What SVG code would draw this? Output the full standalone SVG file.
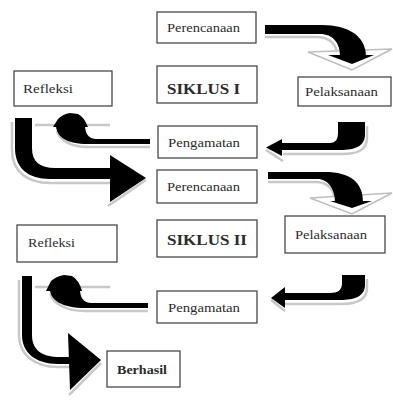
<svg xmlns="http://www.w3.org/2000/svg" width="393" height="401" viewBox="0 0 393 401">
<style>
.box{fill:#fff;stroke:#3a3a3a;stroke-width:1.2}
.t{font-family:"Liberation Serif","Times New Roman",serif;font-size:13px;fill:#2b2b2b}
.b{font-family:"Liberation Serif","Times New Roman",serif;font-size:15px;font-weight:bold;fill:#2b2b2b}
.arr{fill:#000}
.sh{fill:none;stroke:#c8c8c8;stroke-width:2.5}
.hs{fill:#fff;stroke:#bdbdbd;stroke-width:1.5}
</style>
<rect width="393" height="401" fill="#fff"/>
<g id="connectors">
  <!-- A: Perencanaan1 -> Pelaksanaan1 -->
  <path class="sh" d="M265,37 L318,37 Q334,38 337,52"/>
  <polygon class="hs" points="308,52 392,49 352,70"/>
  <path class="arr" d="M265,25 L322,25 C348,25 366,36 366,56 L340,56 C340,43 333,34 320,34 L265,34 Z"/>
  <polygon class="arr" points="328,55 374,55 352,64"/>
  <!-- B: Pelaksanaan1 -> Pengamatan1 -->
  <path class="sh" d="M367,126 L367,138 C367,150 358,154 342,154 L283,154"/>
  <path class="sh" d="M266,150 L283,161"/>
  <path class="arr" d="M338,122 L365,122 L365,134 C365,146 356,150 340,150 L281,150 L281,143 L330,143 C336,143 338,139 338,132 Z"/>
  <polygon class="arr" points="282,139 282,156 266,147.5"/>
  <!-- C: Pengamatan1 -> Refleksi1 -->
  <path class="sh" d="M35,125 L110,125" stroke-width="1.5"/>
  <path class="sh" d="M150,147 L88,147 C70,147 60,140 57,131"/>
  <path class="arr" d="M150,139 L97,139 C88,139 85,133 85,125 L56,125 C56,137 67,144 88,144 L150,144 Z"/>
  <path class="arr" d="M53,127 L58,119 Q63,114 70,113 L78,114 Q84,117 88,127 Z"/>
  <!-- D: Refleksi1 -> Perencanaan2 -->
  <path class="sh" d="M12,122 L12,150 C12,172 28,183 50,183 L110,183"/>
  <path class="sh" d="M146,180 L108,206"/>
  <path class="arr" d="M15,118 L32,118 L32,148 C32,162 40,168 55,168 L112,168 L112,179 L50,179 C28,179 15,168 15,148 Z"/>
  <polygon class="arr" points="110,155 110,202 146,178"/>
  <!-- E: Perencanaan2 -> Pelaksanaan2 -->
  <path class="sh" d="M268,182 L318,182 Q332,184 334,196"/>
  <polygon class="hs" points="310,198 392,193 352,214"/>
  <path class="arr" d="M268,172 L325,172 C350,172 363,182 363,202 L335,202 C335,188 327,179 318,179 L268,179 Z"/>
  <polygon class="arr" points="330,201 372,201 352,208"/>
  <!-- F: Pelaksanaan2 -> Pengamatan2 -->
  <path class="sh" d="M367,279 L367,288 C367,300 357,304 341,304 L285,304"/>
  <path class="sh" d="M271,300 L285,311"/>
  <path class="arr" d="M342,275 L365,275 L365,285 C365,296 355,300 340,300 L284,300 L284,293 L330,293 C338,293 342,290 342,283 Z"/>
  <polygon class="arr" points="285,287 285,308 271,298"/>
  <!-- G: Pengamatan2 -> Refleksi2 -->
  <path class="sh" d="M35,287 L110,287" stroke-width="1.5"/>
  <path class="sh" d="M148,311 L85,311 C66,311 54,304 50,294"/>
  <path class="arr" d="M148,303 L92,303 C83,303 80,297 80,289 L50,289 C50,300 62,308 85,308 L148,308 Z"/>
  <path class="arr" d="M46,291 L51,281 Q57,276 64,275 L72,276 Q79,280 82,291 Z"/>
  <!-- H: Refleksi2 -> Berhasil -->
  <path class="sh" d="M19,280 L19,335 C19,355 35,367 58,367 L70,367"/>
  <path class="sh" d="M101,363 L69,395"/>
  <path class="arr" d="M22,276 L32,276 L32,335 C32,350 42,357 60,357 L72,357 L72,364 L58,364 C35,364 22,352 22,335 Z"/>
  <polygon class="arr" points="68,333 70,390 101,360"/>
</g>
<g id="perencanaan1"><rect class="box" x="157" y="12" width="99" height="31"/><text class="t" x="167" y="32" textLength="73" lengthAdjust="spacingAndGlyphs">Perencanaan</text></g>
<g id="siklus1"><rect class="box" x="157" y="66" width="100" height="37"/><text class="b" x="167" y="94" textLength="73" lengthAdjust="spacingAndGlyphs">SIKLUS I</text></g>
<g id="pelaksanaan1"><rect class="box" x="298" y="77" width="93" height="29"/><text class="t" x="305" y="96" textLength="73" lengthAdjust="spacingAndGlyphs">Pelaksanaan</text></g>
<g id="refleksi1"><rect class="box" x="14" y="71" width="98" height="35"/><text class="t" x="23" y="93" textLength="50" lengthAdjust="spacingAndGlyphs">Refleksi</text></g>
<g id="pengamatan1"><rect class="box" x="158" y="126" width="99" height="32"/><text class="t" x="168" y="147" textLength="72" lengthAdjust="spacingAndGlyphs">Pengamatan</text></g>
<g id="perencanaan2"><rect class="box" x="157" y="170" width="100" height="33"/><text class="t" x="167" y="191" textLength="73" lengthAdjust="spacingAndGlyphs">Perencanaan</text></g>
<g id="siklus2"><rect class="box" x="157" y="220" width="100" height="37"/><text class="b" x="167" y="245" textLength="80" lengthAdjust="spacingAndGlyphs">SIKLUS II</text></g>
<g id="pelaksanaan2"><rect class="box" x="285" y="216" width="100" height="37"/><text class="t" x="295" y="239" textLength="72" lengthAdjust="spacingAndGlyphs">Pelaksanaan</text></g>
<g id="refleksi2"><rect class="box" x="17" y="225" width="100" height="37"/><text class="t" x="28" y="247" textLength="47" lengthAdjust="spacingAndGlyphs">Refleksi</text></g>
<g id="pengamatan2"><rect class="box" x="157" y="291" width="100" height="32"/><text class="t" x="168" y="312" textLength="72" lengthAdjust="spacingAndGlyphs">Pengamatan</text></g>
<g id="berhasil"><rect class="box" x="107" y="351" width="73" height="36"/><text class="t" x="117" y="374" textLength="50" lengthAdjust="spacingAndGlyphs" font-weight="bold">Berhasil</text></g>
</svg>
